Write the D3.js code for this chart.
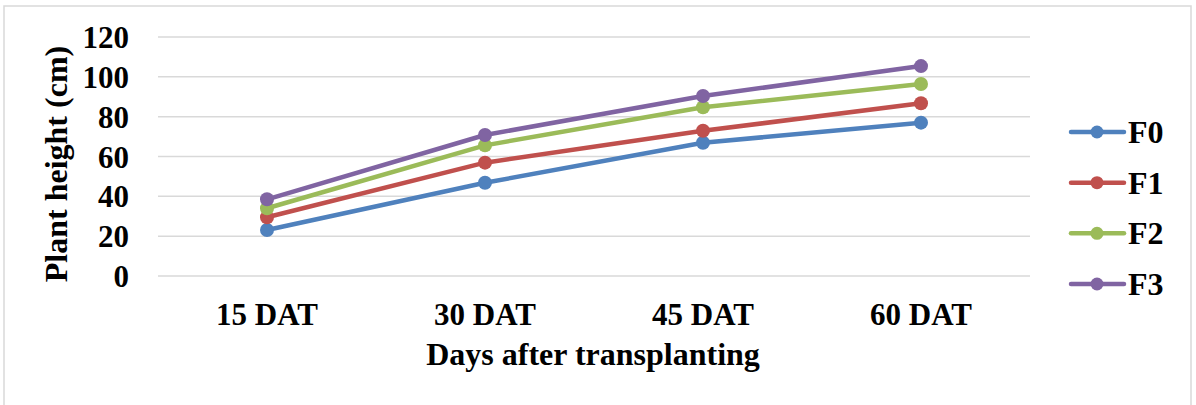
<!DOCTYPE html>
<html><head><meta charset="utf-8">
<script src="https://cdn.jsdelivr.net/npm/d3@7"></script>
<style>html,body{margin:0;padding:0;background:#fff;} svg{display:block;}</style>
</head><body>
<svg id="chart" width="1196" height="405"></svg>
<script>
const categories = ["15 DAT", "30 DAT", "45 DAT", "60 DAT"];
const seriesNames = ["F0", "F1", "F2", "F3"];
const F0 = [23.1, 46.8, 66.9, 77.0];
const F1 = [29.5, 56.9, 72.9, 86.7];
const F2 = [34.0, 65.6, 84.7, 96.4];
const F3 = [38.5, 70.8, 90.4, 105.4];
const yTicks = [0, 20, 40, 60, 80, 100, 120];
const colors = ["#4f81bd", "#c0504d", "#9bbb59", "#8064a2"];
const seriesValues = [F0, F1, F2, F3];

const svg = d3.select("#chart");
const font = "'Liberation Serif','Times New Roman',serif";

svg.append("rect").attr("x", 4).attr("y", 6).attr("width", 1187).attr("height", 402)
  .attr("fill", "#fff").attr("stroke", "#d9d9d9").attr("stroke-width", 1.5);

const x = d3.scaleBand().domain(categories).range([158, 1030]).padding(0);
const y = d3.scaleLinear().domain([0, 120]).range([276, 37]);

// gridlines
svg.append("g").selectAll("line").data(yTicks).join("line")
  .attr("x1", 158).attr("x2", 1030)
  .attr("y1", d => y(d)).attr("y2", d => y(d))
  .attr("stroke", "#d9d9d9").attr("stroke-width", 1.5);

// y axis
const yAxis = svg.append("g").attr("transform", "translate(129,0)")
  .call(d3.axisLeft(y).tickValues(yTicks).tickSize(0).tickPadding(0));
yAxis.select(".domain").remove();
yAxis.selectAll("text").attr("font-family", font).attr("font-weight", "bold")
  .attr("font-size", 31).attr("fill", "#000").attr("dy", "0.34em");

// x axis
const xAxis = svg.append("g").attr("transform", "translate(0,325)")
  .call(d3.axisBottom(x).tickSize(0).tickPadding(0));
xAxis.select(".domain").remove();
xAxis.selectAll("text").attr("font-family", font).attr("font-weight", "bold")
  .attr("font-size", 31).attr("fill", "#000").attr("dy", 0);

// titles
svg.append("text").attr("x", 593).attr("y", 365).attr("text-anchor", "middle")
  .attr("font-family", font).attr("font-weight", "bold").attr("font-size", 32)
  .text("Days after transplanting");
svg.append("text").attr("transform", "translate(67,164) rotate(-90)").attr("text-anchor", "middle")
  .attr("font-family", font).attr("font-weight", "bold").attr("font-size", 32)
  .text("Plant height (cm)");

// lines
const cx = c => x(c) + x.bandwidth() / 2;
const line = d3.line().x((d, i) => cx(categories[i])).y(d => y(d));
seriesValues.forEach((vals, si) => {
  const g = svg.append("g");
  g.append("path").datum(vals).attr("d", line).attr("fill", "none")
    .attr("stroke", colors[si]).attr("stroke-width", 4.5).attr("stroke-linejoin", "round").attr("stroke-linecap", "round");
  g.selectAll("circle").data(vals).join("circle")
    .attr("cx", (d, i) => cx(categories[i])).attr("cy", d => y(d)).attr("r", 7)
    .attr("fill", colors[si]);
});

// legend
const legY = d3.scalePoint().domain(seriesNames).range([132, 284]);
const leg = svg.append("g").selectAll("g").data(seriesNames).join("g")
  .attr("transform", d => `translate(0,${legY(d)})`);
leg.append("line").attr("x1", 1071).attr("x2", 1124).attr("y1", 0).attr("y2", 0)
  .attr("stroke", (d, i) => colors[i]).attr("stroke-width", 4.5).attr("stroke-linecap", "round");
leg.append("circle").attr("cx", 1097).attr("cy", 0).attr("r", 6.5).attr("fill", (d, i) => colors[i]);
leg.append("text").attr("x", 1128).attr("y", 0).attr("dy", "0.34em")
  .attr("font-family", font).attr("font-weight", "bold").attr("font-size", 32)
  .text(d => d);
</script>
</body></html>
